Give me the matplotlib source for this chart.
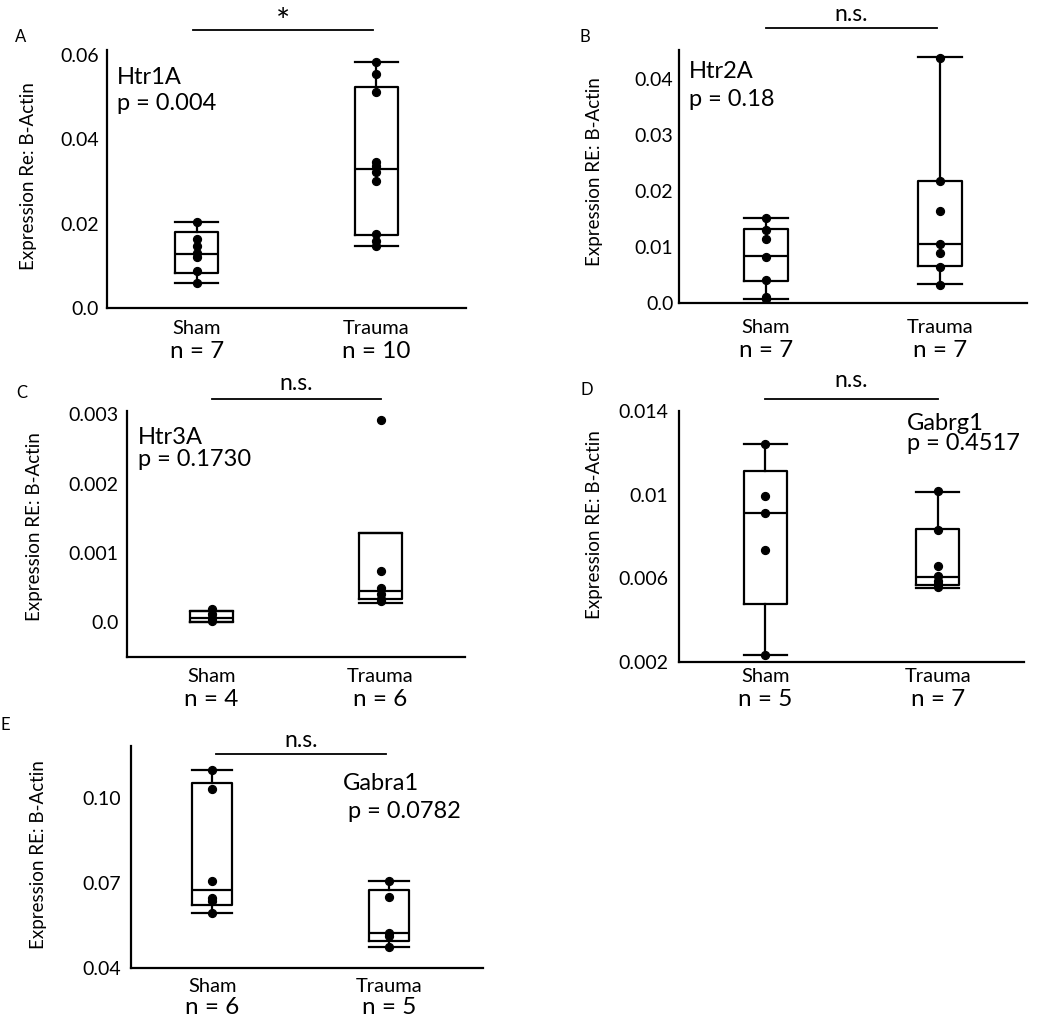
import matplotlib
matplotlib.use("Agg")
import matplotlib.pyplot as plt
from matplotlib.lines import Line2D
import matplotlib.transforms as mtransforms

plt.rcParams['font.family'] = ['Lato', 'DejaVu Sans']

groups = ["Sham", "Trauma"]

# ---- Panel A: Htr1A ----
a_sham = [0.0203, 0.0163, 0.0147, 0.0131, 0.0120, 0.0088, 0.0059]
a_trauma = [0.0584, 0.0555, 0.0512, 0.0346, 0.0336, 0.0322, 0.0301, 0.0176, 0.0160, 0.0147]
a_q1 = [0.0082, 0.0173]
a_med = [0.0129, 0.0330]
a_q3 = [0.0180, 0.0524]
a_wlo = [0.0059, 0.0147]
a_whi = [0.0203, 0.0584]
a_n = ["n = 7", "n = 10"]
a_ticks = [0.0, 0.02, 0.04, 0.06]
a_ticklabels = ["0.0", "0.02", "0.04", "0.06"]

# ---- Panel B: Htr2A ----
b_sham = [0.01525, 0.0130, 0.0114, 0.0083, 0.0041, 0.0011, 0.0007]
b_trauma = [0.0437, 0.0218, 0.0164, 0.0106, 0.0090, 0.0065, 0.0033]
b_q1 = [0.00386, 0.00665]
b_med = [0.00831, 0.01062]
b_q3 = [0.01318, 0.02178]
b_wlo = [0.0007, 0.00338]
b_whi = [0.01513, 0.0439]
b_n = ["n = 7", "n = 7"]
b_ticks = [0.0, 0.01, 0.02, 0.03, 0.04]
b_ticklabels = ["0.0", "0.01", "0.02", "0.03", "0.04"]

# ---- Panel C: Htr3A ----
c_sham = [0.00019, 0.00012, 0.00007, 0.000015]
c_trauma = [0.00292, 0.00074, 0.00050, 0.00041, 0.00034, 0.00031]
c_q1 = [0.00001, 0.00034]
c_med = [0.000058, 0.00045]
c_q3 = [0.00016, 0.00129]
c_wlo = [0.00001, 0.000275]
c_whi = [0.00016, 0.00129]
c_n = ["n = 4", "n = 6"]
c_ticks = [0.0, 0.001, 0.002, 0.003]
c_ticklabels = ["0.0", "0.001", "0.002", "0.003"]

# ---- Panel D: Gabrg1 ----
d_sham = [0.0124, 0.00994, 0.0091, 0.00735, 0.00235]
d_trauma = [0.01016, 0.00832, 0.00657, 0.00613, 0.00589, 0.00571, 0.00559]
d_q1 = [0.00476, 0.0057]
d_med = [0.00911, 0.00608]
d_q3 = [0.01111, 0.00835]
d_wlo = [0.00235, 0.00556]
d_whi = [0.0124, 0.01013]
d_n = ["n = 5", "n = 7"]
d_ticks = [0.002, 0.006, 0.01, 0.014]
d_ticklabels = ["0.002", "0.006", "0.01", "0.014"]

# ---- Panel E: Gabra1 ----
e_sham = [0.1097, 0.1031, 0.0706, 0.0648, 0.0636, 0.0595]
e_trauma = [0.0705, 0.0650, 0.0524, 0.0512, 0.0473]
e_q1 = [0.0622, 0.0494]
e_med = [0.0675, 0.0524]
e_q3 = [0.1050, 0.0674]
e_wlo = [0.0595, 0.0473]
e_whi = [0.1097, 0.0705]
e_n = ["n = 6", "n = 5"]
e_ticks = [0.04, 0.07, 0.10]
e_ticklabels = ["0.04", "0.07", "0.10"]

W, H = 1050, 1034
fig = plt.figure(figsize=(W / 100, H / 100), dpi=100)


def px_axes(l, r, t, b):
    return fig.add_axes([l / W, 1 - b / H, (r - l) / W, (b - t) / H])


panels = [
    dict(rect=(107, 466, 50, 308), ylim=(0.0, 0.0612), xlim=(0.5, 2.5), width=0.24,
         sham=a_sham, trauma=a_trauma, q1=a_q1, med=a_med, q3=a_q3, wlo=a_wlo, whi=a_whi,
         n=a_n, ticks=a_ticks, ticklabels=a_ticklabels, ylabel="Expression Re: B-Actin",
         ylab_x=-0.195, ylab_y=0.51, tpad=6,
         gene="Htr1A", ptxt="p = 0.004", gpos=(117, 78), ppos=(117, 104),
         sig="*", sig_y=1.078, sig_text_y=1.105, sig_x=(0.98, 1.98),
         label="A", lpos=(21, 37), xl_off=(21, 43)),
    dict(rect=(679, 1027, 50, 303), ylim=(0.0, 0.0452), xlim=(0.5, 2.5), width=0.25,
         sham=b_sham, trauma=b_trauma, q1=b_q1, med=b_med, q3=b_q3, wlo=b_wlo, whi=b_whi,
         n=b_n, ticks=b_ticks, ticklabels=b_ticklabels, ylabel="Expression RE: B-Actin",
         ylab_x=-0.218, ylab_y=0.52, tpad=4,
         gene="Htr2A", ptxt="p = 0.18", gpos=(689, 72), ppos=(689, 100),
         sig="n.s.", sig_y=1.087, sig_text_y=1.14, sig_x=(1.0, 1.98),
         label="B", lpos=(585, 37), xl_off=(25, 48)),
    dict(rect=(127, 465, 411, 657), ylim=(-0.0005, 0.00305), xlim=(0.5, 2.5), width=0.25,
         sham=c_sham, trauma=c_trauma, q1=c_q1, med=c_med, q3=c_q3, wlo=c_wlo, whi=c_whi,
         n=c_n, ticks=c_ticks, ticklabels=c_ticklabels, ylabel="Expression RE: B-Actin",
         ylab_x=-0.249, ylab_y=0.53, tpad=6,
         gene="Htr3A", ptxt="p = 0.1730", gpos=(138, 438), ppos=(138, 460),
         sig="n.s.", sig_y=1.049, sig_text_y=1.11, sig_x=(1.0, 2.0),
         label="C", lpos=(22, 393), xl_off=(19, 43)),
    dict(rect=(679, 1024, 411, 662), ylim=(0.002, 0.014), xlim=(0.5, 2.5), width=0.25,
         sham=d_sham, trauma=d_trauma, q1=d_q1, med=d_med, q3=d_q3, wlo=d_wlo, whi=d_whi,
         n=d_n, ticks=d_ticks, ticklabels=d_ticklabels, ylabel="Expression RE: B-Actin",
         ylab_x=-0.22, ylab_y=0.546, tpad=8,
         gene="Gabrg1", ptxt="p = 0.4517", gpos=(907, 423), ppos=(907, 443),
         sig="n.s.", sig_y=1.048, sig_text_y=1.12, sig_x=(1.0, 2.0),
         label="D", lpos=(587, 390), xl_off=(14, 37)),
    dict(rect=(131, 483, 746, 968), ylim=(0.04, 0.1182), xlim=(0.54, 2.53), width=0.226,
         sham=e_sham, trauma=e_trauma, q1=e_q1, med=e_med, q3=e_q3, wlo=e_wlo, whi=e_whi,
         n=e_n, ticks=e_ticks, ticklabels=e_ticklabels, ylabel="Expression RE: B-Actin",
         ylab_x=-0.239, ylab_y=0.51, tpad=7,
         gene="Gabra1", ptxt="p = 0.0782", gpos=(343, 783), ppos=(348, 812),
         sig="n.s.", sig_y=0.964, sig_text_y=1.025, sig_x=(1.02, 1.98),
         label="E", lpos=(5, 725), xl_off=(19, 40)),
]

for p in panels:
    ax = px_axes(*p["rect"])
    stats = []
    for i, g in enumerate(groups):
        stats.append(dict(label=g, q1=p["q1"][i], med=p["med"][i], q3=p["q3"][i],
                          whislo=p["wlo"][i], whishi=p["whi"][i], fliers=[]))
    ax.bxp(stats, positions=[1, 2], widths=p["width"], capwidths=p["width"],
           showfliers=False, patch_artist=False,
           boxprops=dict(color="black", linewidth=1.6),
           medianprops=dict(color="black", linewidth=1.6),
           whiskerprops=dict(color="black", linewidth=1.6),
           capprops=dict(color="black", linewidth=1.6))
    ax.scatter([1] * len(p["sham"]), p["sham"], s=32, color="black", zorder=3)
    ax.scatter([2] * len(p["trauma"]), p["trauma"], s=32, color="black", zorder=3)

    ax.set_xlim(*p["xlim"])
    ax.set_ylim(*p["ylim"])
    ax.set_yticks(p["ticks"])
    ax.set_yticklabels(p["ticklabels"], fontsize=14)
    ax.set_xticks([1, 2])
    ax.set_xticklabels([])
    ax.tick_params(axis="both", length=0)
    ax.tick_params(axis="y", pad=p["tpad"])
    for s in ["top", "right"]:
        ax.spines[s].set_visible(False)
    for s in ["left", "bottom"]:
        ax.spines[s].set_linewidth(1.6)
    ax.set_ylabel(p["ylabel"], fontsize=13.5)
    ax.yaxis.set_label_coords(p["ylab_x"], p["ylab_y"])

    trans = mtransforms.blended_transform_factory(ax.transData, ax.transAxes)
    # group labels and n
    for i, g in enumerate(groups):
        ax.annotate(g, xy=(i + 1, 0), xycoords=trans,
                    xytext=(0, -p["xl_off"][0] * 0.72), textcoords="offset points",
                    ha="center", va="center", fontsize=14.5)
        ax.annotate(p["n"][i], xy=(i + 1, 0), xycoords=trans,
                    xytext=(0, -p["xl_off"][1] * 0.72), textcoords="offset points",
                    ha="center", va="center", fontsize=17.5)

    # significance bar
    x0, x1 = p["sig_x"]
    ax.add_line(Line2D([x0, x1], [p["sig_y"], p["sig_y"]], transform=trans,
                       color="black", linewidth=1.3, clip_on=False))
    ax.text((x0 + x1) / 2, p["sig_text_y"], p["sig"], transform=trans,
            ha="center", va="center", fontsize=24 if p["sig"] == "*" else 16.5,
            clip_on=False)

    # gene and p value
    fig.text(p["gpos"][0] / W, 1 - p["gpos"][1] / H, p["gene"], ha="left",
             va="center", fontsize=17)
    fig.text(p["ppos"][0] / W, 1 - p["ppos"][1] / H, p["ptxt"], ha="left",
             va="center", fontsize=17)
    # panel label
    fig.text(p["lpos"][0] / W, 1 - p["lpos"][1] / H, p["label"], ha="center",
             va="center", fontsize=12)

fig.savefig("out.png", dpi=100)
